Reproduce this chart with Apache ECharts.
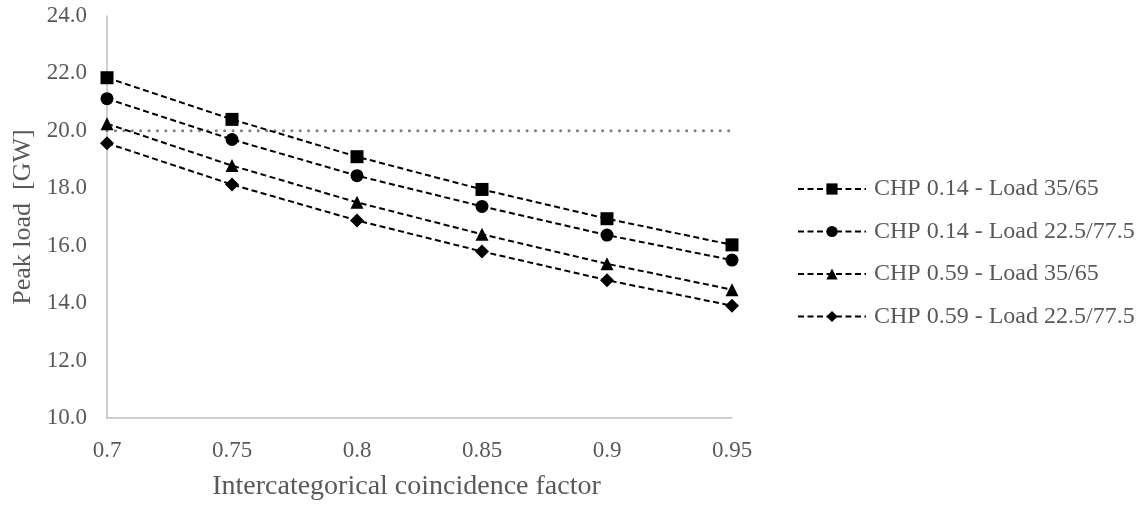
<!DOCTYPE html>
<html>
<head>
<meta charset="utf-8">
<script src="https://cdn.jsdelivr.net/npm/echarts@6/dist/echarts.min.js"></script>
<style>
  html, body { margin: 0; padding: 0; background: #ffffff; }
  #chart { width: 1144px; height: 506px; }
</style>
</head>
<body>
<div id="chart"></div>
<script>
// Coincidence factors on the x axis
const factors = ['0.7', '0.75', '0.8', '0.85', '0.9', '0.95'];

// Peak load [GW] per scenario
const seriesNames = [
  'CHP 0.14 - Load 35/65',
  'CHP 0.14 - Load 22.5/77.5',
  'CHP 0.59 - Load 35/65',
  'CHP 0.59 - Load 22.5/77.5'
];
const chp014Load3565 = [21.85, 20.40, 19.10, 17.96, 16.94, 16.03];
const chp014Load225775 = [21.12, 19.70, 18.44, 17.37, 16.37, 15.50];
const chp059Load3565 = [20.25, 18.79, 17.51, 16.40, 15.37, 14.47];
const chp059Load225775 = [19.57, 18.13, 16.88, 15.80, 14.80, 13.91];

// Reference peak-load level
const referenceLevel = [20, 20, 20, 20, 20, 20];

// Y axis ticks
const yMin = 10, yMax = 24, yStep = 2;

const font = '"Liberation Serif", "Times New Roman", serif';
const textGray = '#595959';
const axisGray = '#bfbfbf';

const symbols = ['rect', 'circle', 'triangle', 'diamond'];
const symbolSizes = [13, 13, 13, 14];
const values = [chp014Load3565, chp014Load225775, chp059Load3565, chp059Load225775];

const scenarioSeries = values.map((vals, i) => ({
  name: seriesNames[i],
  type: 'line',
  data: vals,
  symbol: symbols[i],
  symbolSize: symbolSizes[i],
  showAllSymbol: true,
  itemStyle: { color: '#000000' },
  lineStyle: { color: '#000000', width: 2, type: [6, 3.5] },
  z: 3
}));

const chart = echarts.init(document.getElementById('chart'), null, { renderer: 'canvas' });

chart.setOption({
  animation: false,
  backgroundColor: '#ffffff',
  textStyle: { fontFamily: font, color: textGray },
  grid: { left: 107, right: 412, top: 16, bottom: 79, containLabel: false },
  legend: {
    data: seriesNames,
    orient: 'vertical',
    left: 792,
    top: 172,
    itemWidth: 68,
    itemHeight: 14,
    itemGap: 18.5,
    textStyle: { fontFamily: font, fontSize: 24, color: textGray, padding: [0, 0, 0, 3] }
  },
  xAxis: {
    type: 'category',
    data: factors,
    boundaryGap: false,
    name: 'Intercategorical coincidence factor',
    nameLocation: 'middle',
    nameGap: 55,
    nameTextStyle: { fontFamily: font, fontSize: 28, color: textGray, padding: [0, 26, 0, 0] },
    axisLine: { show: true, lineStyle: { color: axisGray, width: 1.5 } },
    axisTick: { show: false },
    axisLabel: { fontFamily: font, fontSize: 23, color: textGray, margin: 21 },
    splitLine: { show: false }
  },
  yAxis: {
    type: 'value',
    min: yMin,
    max: yMax,
    interval: yStep,
    name: 'Peak load  [GW]',
    nameLocation: 'middle',
    nameGap: 70,
    nameTextStyle: { fontFamily: font, fontSize: 26, color: textGray },
    axisLine: { show: true, lineStyle: { color: axisGray, width: 1.5 } },
    axisTick: { show: false },
    axisLabel: {
      fontFamily: font, fontSize: 23, color: textGray, margin: 20,
      formatter: v => v.toFixed(1)
    },
    splitLine: { show: false }
  },
  series: [
    {
      name: 'Reference level',
      type: 'line',
      data: referenceLevel,
      symbol: 'none',
      lineStyle: { color: '#808080', width: 3, type: [0.1, 8.3], cap: 'round' },
      silent: true,
      z: 2
    },
    ...scenarioSeries
  ]
});
</script>
</body>
</html>
